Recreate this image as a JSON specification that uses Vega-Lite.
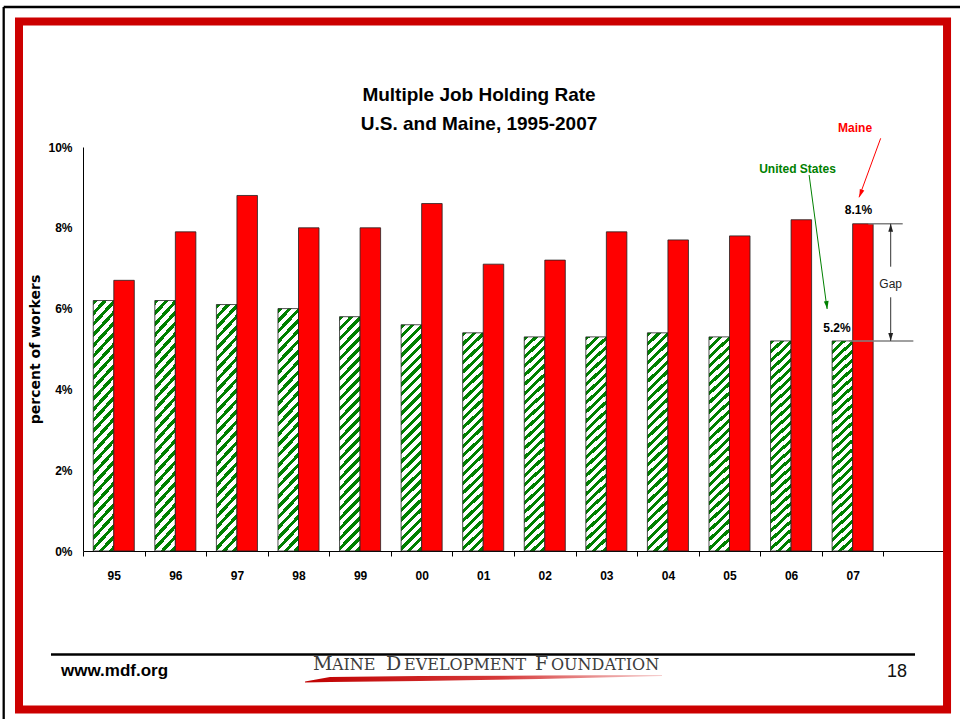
{
  "$schema": "https://vega.github.io/schema/vega-lite/v6.json",
  "width": 862,
  "height": 404,
  "autosize": {"type": "none"},
  "padding": {"left": 83, "top": 147, "right": 15, "bottom": 168},
  "background": "white",
  "config": {
    "view": {"stroke": null},
    "font": "Liberation Sans",
    "axis": {"grid": false}
  },
  "layer": [
    {
      "data": {
        "values": [
          {"year": "95", "series": "US", "rate": 6.2},
          {"year": "96", "series": "US", "rate": 6.2},
          {"year": "97", "series": "US", "rate": 6.1},
          {"year": "98", "series": "US", "rate": 6.0},
          {"year": "99", "series": "US", "rate": 5.8},
          {"year": "00", "series": "US", "rate": 5.6},
          {"year": "01", "series": "US", "rate": 5.4},
          {"year": "02", "series": "US", "rate": 5.3},
          {"year": "03", "series": "US", "rate": 5.3},
          {"year": "04", "series": "US", "rate": 5.4},
          {"year": "05", "series": "US", "rate": 5.3},
          {"year": "06", "series": "US", "rate": 5.2},
          {"year": "07", "series": "US", "rate": 5.2},
          {"year": "95", "series": "Maine", "rate": 6.7},
          {"year": "96", "series": "Maine", "rate": 7.9},
          {"year": "97", "series": "Maine", "rate": 8.8},
          {"year": "98", "series": "Maine", "rate": 8.0},
          {"year": "99", "series": "Maine", "rate": 8.0},
          {"year": "00", "series": "Maine", "rate": 8.6},
          {"year": "01", "series": "Maine", "rate": 7.1},
          {"year": "02", "series": "Maine", "rate": 7.2},
          {"year": "03", "series": "Maine", "rate": 7.9},
          {"year": "04", "series": "Maine", "rate": 7.7},
          {"year": "05", "series": "Maine", "rate": 7.8},
          {"year": "06", "series": "Maine", "rate": 8.2},
          {"year": "07", "series": "Maine", "rate": 8.1}
        ]
      },
      "encoding": {
        "x": {
          "field": "year",
          "type": "nominal",
          "sort": null,
          "scale": {
            "domain": ["95", "96", "97", "98", "99", "00", "01", "02", "03", "04", "05", "06", "07", ""],
            "paddingInner": 0,
            "paddingOuter": 0
          },
          "axis": {
            "title": null,
            "tickBand": "extent",
            "labelAngle": 0,
            "domainColor": "#000000",
            "tickColor": "#000000",
            "tickSize": 5,
            "labelFont": "Liberation Sans",
            "labelFontWeight": "bold",
            "labelFontSize": 12,
            "labelColor": "#000000",
            "labelPadding": 14
          }
        },
        "xOffset": {
          "field": "series",
          "scale": {"domain": ["US", "Maine"], "paddingInner": 0, "paddingOuter": 0.5}
        },
        "y": {
          "field": "rate",
          "type": "quantitative",
          "title": "percent of workers",
          "scale": {"domain": [0, 10], "nice": false},
          "axis": {
            "values": [0, 2, 4, 6, 8, 10],
            "labelExpr": "datum.value + '%'",
            "ticks": false,
            "domainColor": "#000000",
            "labelFont": "Liberation Sans",
            "labelFontWeight": "bold",
            "labelFontSize": 12,
            "labelColor": "#000000",
            "labelPadding": 11,
            "labelFlush": false,
            "titleFont": "DejaVu Sans",
            "titleFontSize": 14,
            "titleFontWeight": "bold",
            "titleColor": "#000000",
            "titlePadding": 5
          }
        }
      },
      "layer": [
        {
          "transform": [{"filter": "datum.series === 'US'"}],
          "mark": {
            "type": "bar",
            "stroke": "#222222",
            "strokeWidth": 0.8,
            "fill": {
              "gradient": "linear",
              "x1": 0, "y1": 0, "x2": 0.099, "y2": 1.1,
              "stops": [
                {"offset": 0, "color": "#008000"}, {"offset": 0.0173, "color": "#008000"}, {"offset": 0.0173, "color": "#ffffff"}, {"offset": 0.0385, "color": "#ffffff"},
                {"offset": 0.0385, "color": "#008000"}, {"offset": 0.0558, "color": "#008000"}, {"offset": 0.0558, "color": "#ffffff"}, {"offset": 0.0769, "color": "#ffffff"},
                {"offset": 0.0769, "color": "#008000"}, {"offset": 0.0942, "color": "#008000"}, {"offset": 0.0942, "color": "#ffffff"}, {"offset": 0.1154, "color": "#ffffff"},
                {"offset": 0.1154, "color": "#008000"}, {"offset": 0.1327, "color": "#008000"}, {"offset": 0.1327, "color": "#ffffff"}, {"offset": 0.1538, "color": "#ffffff"},
                {"offset": 0.1538, "color": "#008000"}, {"offset": 0.1712, "color": "#008000"}, {"offset": 0.1712, "color": "#ffffff"}, {"offset": 0.1923, "color": "#ffffff"},
                {"offset": 0.1923, "color": "#008000"}, {"offset": 0.2096, "color": "#008000"}, {"offset": 0.2096, "color": "#ffffff"}, {"offset": 0.2308, "color": "#ffffff"},
                {"offset": 0.2308, "color": "#008000"}, {"offset": 0.2481, "color": "#008000"}, {"offset": 0.2481, "color": "#ffffff"}, {"offset": 0.2692, "color": "#ffffff"},
                {"offset": 0.2692, "color": "#008000"}, {"offset": 0.2865, "color": "#008000"}, {"offset": 0.2865, "color": "#ffffff"}, {"offset": 0.3077, "color": "#ffffff"},
                {"offset": 0.3077, "color": "#008000"}, {"offset": 0.3250, "color": "#008000"}, {"offset": 0.3250, "color": "#ffffff"}, {"offset": 0.3462, "color": "#ffffff"},
                {"offset": 0.3462, "color": "#008000"}, {"offset": 0.3635, "color": "#008000"}, {"offset": 0.3635, "color": "#ffffff"}, {"offset": 0.3846, "color": "#ffffff"},
                {"offset": 0.3846, "color": "#008000"}, {"offset": 0.4019, "color": "#008000"}, {"offset": 0.4019, "color": "#ffffff"}, {"offset": 0.4231, "color": "#ffffff"},
                {"offset": 0.4231, "color": "#008000"}, {"offset": 0.4404, "color": "#008000"}, {"offset": 0.4404, "color": "#ffffff"}, {"offset": 0.4615, "color": "#ffffff"},
                {"offset": 0.4615, "color": "#008000"}, {"offset": 0.4788, "color": "#008000"}, {"offset": 0.4788, "color": "#ffffff"}, {"offset": 0.5000, "color": "#ffffff"},
                {"offset": 0.5000, "color": "#008000"}, {"offset": 0.5173, "color": "#008000"}, {"offset": 0.5173, "color": "#ffffff"}, {"offset": 0.5385, "color": "#ffffff"},
                {"offset": 0.5385, "color": "#008000"}, {"offset": 0.5558, "color": "#008000"}, {"offset": 0.5558, "color": "#ffffff"}, {"offset": 0.5769, "color": "#ffffff"},
                {"offset": 0.5769, "color": "#008000"}, {"offset": 0.5942, "color": "#008000"}, {"offset": 0.5942, "color": "#ffffff"}, {"offset": 0.6154, "color": "#ffffff"},
                {"offset": 0.6154, "color": "#008000"}, {"offset": 0.6327, "color": "#008000"}, {"offset": 0.6327, "color": "#ffffff"}, {"offset": 0.6538, "color": "#ffffff"},
                {"offset": 0.6538, "color": "#008000"}, {"offset": 0.6712, "color": "#008000"}, {"offset": 0.6712, "color": "#ffffff"}, {"offset": 0.6923, "color": "#ffffff"},
                {"offset": 0.6923, "color": "#008000"}, {"offset": 0.7096, "color": "#008000"}, {"offset": 0.7096, "color": "#ffffff"}, {"offset": 0.7308, "color": "#ffffff"},
                {"offset": 0.7308, "color": "#008000"}, {"offset": 0.7481, "color": "#008000"}, {"offset": 0.7481, "color": "#ffffff"}, {"offset": 0.7692, "color": "#ffffff"},
                {"offset": 0.7692, "color": "#008000"}, {"offset": 0.7865, "color": "#008000"}, {"offset": 0.7865, "color": "#ffffff"}, {"offset": 0.8077, "color": "#ffffff"},
                {"offset": 0.8077, "color": "#008000"}, {"offset": 0.8250, "color": "#008000"}, {"offset": 0.8250, "color": "#ffffff"}, {"offset": 0.8462, "color": "#ffffff"},
                {"offset": 0.8462, "color": "#008000"}, {"offset": 0.8635, "color": "#008000"}, {"offset": 0.8635, "color": "#ffffff"}, {"offset": 0.8846, "color": "#ffffff"},
                {"offset": 0.8846, "color": "#008000"}, {"offset": 0.9019, "color": "#008000"}, {"offset": 0.9019, "color": "#ffffff"}, {"offset": 0.9231, "color": "#ffffff"},
                {"offset": 0.9231, "color": "#008000"}, {"offset": 0.9404, "color": "#008000"}, {"offset": 0.9404, "color": "#ffffff"}, {"offset": 0.9615, "color": "#ffffff"},
                {"offset": 0.9615, "color": "#008000"}, {"offset": 0.9788, "color": "#008000"}, {"offset": 0.9788, "color": "#ffffff"}, {"offset": 1, "color": "#ffffff"}
              ]
            }
          }
        },
        {
          "transform": [{"filter": "datum.series === 'Maine'"}],
          "mark": {"type": "bar", "fill": "#ff0000", "stroke": "#222222", "strokeWidth": 0.8}
        }
      ]
    },
    {
      "encoding": {
        "x": {"field": "x", "type": "quantitative", "scale": {"domain": [0, 14], "nice": false, "zero": false}, "axis": null},
        "y": {"field": "y", "type": "quantitative", "title": "percent of workers", "scale": {"domain": [0, 10], "nice": false}}
      },
      "layer": [
        {
          "data": {"values": [{"x": -1.0395, "x2": 14.033, "y": 13.106, "y2": -3.923}]},
          "mark": {"type": "rect", "fill": "#ffffff", "fillOpacity": 0, "stroke": "#cc0000", "strokeWidth": 8},
          "encoding": {"x2": {"field": "x2"}, "y2": {"field": "y2"}}
        },
        {
          "data": {"values": [
            {"x": -1.288, "y": 13.465, "x2": -1.288, "y2": -4.4},
            {"x": -1.288, "y": 13.465, "x2": 14.5, "y2": 13.465}
          ]},
          "mark": {"type": "rule", "color": "#000000", "strokeWidth": 2.3},
          "encoding": {"x2": {"field": "x2"}, "y2": {"field": "y2"}}
        },
        {
          "data": {"values": [
            {"x": 6.432, "y": 11.139, "t": "Multiple Job Holding Rate"},
            {"x": 6.432, "y": 10.421, "t": "U.S. and Maine, 1995-2007"}
          ]},
          "mark": {"type": "text", "align": "center", "baseline": "alphabetic", "font": "Liberation Sans", "fontSize": 19, "fontWeight": "bold", "color": "#000000"},
          "encoding": {"text": {"field": "t"}}
        },
        {
          "data": {"values": [{"x": -0.52, "y": -2.562, "x2": 13.513, "y2": -2.562}]},
          "mark": {"type": "rule", "color": "#000000", "strokeWidth": 2.5},
          "encoding": {"x2": {"field": "x2"}, "y2": {"field": "y2"}}
        },
        {
          "data": {"values": [
            {"x": 3.606, "y": -3.230, "y2": -3.255},
            {"x": 4.012, "y": -3.119, "y2": -3.243},
            {"x": 5.473, "y": -3.094, "y2": -3.218},
            {"x": 7.422, "y": -3.082, "y2": -3.168},
            {"x": 9.404, "y": -3.069, "y2": -3.094}
          ]},
          "mark": {
            "type": "area",
            "fill": {
              "gradient": "linear", "x1": 0, "y1": 0, "x2": 1, "y2": 0,
              "stops": [
                {"offset": 0, "color": "#c00000"},
                {"offset": 0.55, "color": "#d63a3a"},
                {"offset": 1, "color": "#f6cfcf"}
              ]
            }
          },
          "encoding": {"y2": {"field": "y2"}}
        },
        {
          "data": {"values": [{"x": -0.357, "y": -3.094, "t": "www.mdf.org"}]},
          "mark": {"type": "text", "align": "left", "baseline": "alphabetic", "font": "Liberation Sans", "fontSize": 17, "fontWeight": "bold", "color": "#000000"},
          "encoding": {"text": {"field": "t"}}
        },
        {
          "data": {"values": [{"x": 13.22, "y": -3.119, "t": "18"}]},
          "mark": {"type": "text", "align": "center", "baseline": "alphabetic", "font": "Liberation Sans", "fontSize": 18, "color": "#111111"},
          "encoding": {"text": {"field": "t"}}
        },
        {
          "data": {"values": [
            {"x": 3.735, "y": -2.946, "t": "M"},
            {"x": 4.921, "y": -2.946, "t": "D"},
            {"x": 7.34, "y": -2.946, "t": "F"}
          ]},
          "mark": {"type": "text", "align": "left", "baseline": "alphabetic", "font": "DejaVu Serif", "fontSize": 19, "color": "#3c3c3c"},
          "encoding": {"text": {"field": "t"}}
        },
        {
          "data": {"values": [
            {"x": 4.044, "y": -2.946, "t": "AINE"},
            {"x": 5.213, "y": -2.946, "t": "EVELOPMENT"},
            {"x": 7.601, "y": -2.946, "t": "OUNDATION"}
          ]},
          "mark": {"type": "text", "align": "left", "baseline": "alphabetic", "font": "DejaVu Serif", "fontSize": 16, "color": "#3c3c3c"},
          "encoding": {"text": {"field": "t"}}
        },
        {
          "data": {"values": [{"x": 12.955, "y": 10.215, "x2": 12.604, "y2": 8.755}]},
          "mark": {"type": "rule", "color": "#ff0000", "strokeWidth": 1},
          "encoding": {"x2": {"field": "x2"}, "y2": {"field": "y2"}}
        },
        {
          "data": {"values": [{"x": 11.793, "y": 9.307, "x2": 12.085, "y2": 5.99}]},
          "mark": {"type": "rule", "color": "#008000", "strokeWidth": 1},
          "encoding": {"x2": {"field": "x2"}, "y2": {"field": "y2"}}
        },
        {
          "data": {"values": [
            {"x": 12.754, "y": 8.1, "x2": 13.313, "y2": 8.1},
            {"x": 12.44, "y": 5.2, "x2": 13.486, "y2": 5.2}
          ]},
          "mark": {"type": "rule", "color": "#808080", "strokeWidth": 1.5},
          "encoding": {"x2": {"field": "x2"}, "y2": {"field": "y2"}}
        },
        {
          "data": {"values": [
            {"x": 13.118, "y": 8.1, "x2": 13.118, "y2": 7.037},
            {"x": 13.118, "y": 6.28, "x2": 13.118, "y2": 5.2}
          ]},
          "mark": {"type": "rule", "color": "#333333", "strokeWidth": 1},
          "encoding": {"x2": {"field": "x2"}, "y2": {"field": "y2"}}
        },
        {
          "data": {"values": [{"x": 12.631, "y": 8.848}]},
          "mark": {"type": "point", "shape": "M0,-1L0.6,1L-0.6,1Z", "filled": true, "size": 64, "color": "#ff0000", "opacity": 1, "angle": 200}
        },
        {
          "data": {"values": [{"x": 12.08, "y": 6.088}]},
          "mark": {"type": "point", "shape": "M0,-1L0.6,1L-0.6,1Z", "filled": true, "size": 64, "color": "#008000", "opacity": 1, "angle": 172}
        },
        {
          "data": {"values": [{"x": 13.118, "y": 8.001}]},
          "mark": {"type": "point", "shape": "M0,-1L0.6,1L-0.6,1Z", "filled": true, "size": 64, "color": "#222222", "opacity": 1, "angle": 0}
        },
        {
          "data": {"values": [{"x": 13.118, "y": 5.299}]},
          "mark": {"type": "point", "shape": "M0,-1L0.6,1L-0.6,1Z", "filled": true, "size": 64, "color": "#222222", "opacity": 1, "angle": 180}
        },
        {
          "data": {"values": [{"x": 12.539, "y": 10.359, "t": "Maine"}]},
          "mark": {"type": "text", "align": "center", "baseline": "alphabetic", "font": "Liberation Sans", "fontSize": 12, "fontWeight": "bold", "color": "#ff0000"},
          "encoding": {"text": {"field": "t"}}
        },
        {
          "data": {"values": [{"x": 11.605, "y": 9.356, "t": "United States"}]},
          "mark": {"type": "text", "align": "center", "baseline": "alphabetic", "font": "Liberation Sans", "fontSize": 12, "fontWeight": "bold", "color": "#008000"},
          "encoding": {"text": {"field": "t"}}
        },
        {
          "data": {"values": [
            {"x": 12.595, "y": 8.342, "t": "8.1%"},
            {"x": 12.246, "y": 5.421, "t": "5.2%"}
          ]},
          "mark": {"type": "text", "align": "center", "baseline": "alphabetic", "font": "Liberation Sans", "fontSize": 12, "fontWeight": "bold", "color": "#000000"},
          "encoding": {"text": {"field": "t"}}
        },
        {
          "data": {"values": [{"x": 13.118, "y": 6.621, "t": "Gap"}]},
          "mark": {"type": "text", "align": "center", "baseline": "middle", "font": "Liberation Sans", "fontSize": 12, "color": "#222222"},
          "encoding": {"text": {"field": "t"}}
        }
      ]
    }
  ],
  "resolve": {"scale": {"x": "independent"}}
}
